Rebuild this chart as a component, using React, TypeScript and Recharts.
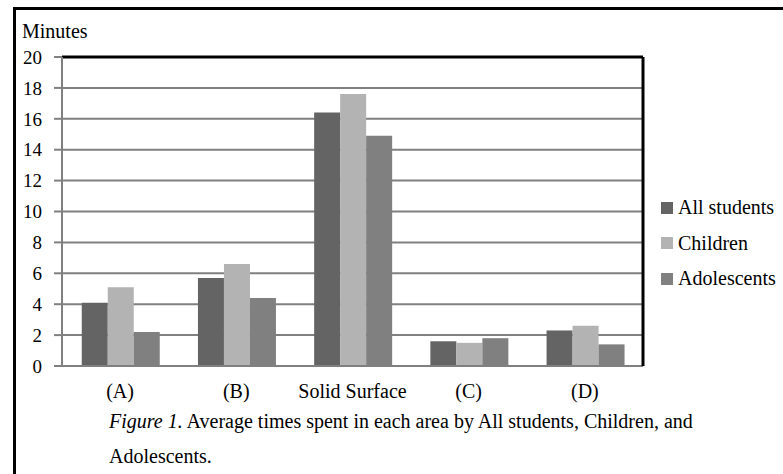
import { BarChart, Bar, XAxis, YAxis, CartesianGrid, Legend, ReferenceLine } from 'recharts';

const areas = ['(A)', '(B)', 'Solid Surface', '(C)', '(D)'];
const allStudents = [4.1, 5.7, 16.4, 1.6, 2.3];
const children = [5.1, 6.6, 17.6, 1.5, 2.6];
const adolescents = [2.2, 4.4, 14.9, 1.8, 1.4];
const yTicks = [0, 2, 4, 6, 8, 10, 12, 14, 16, 18, 20];

const series = [
  { key: 'allStudents', name: 'All students', color: '#646464' },
  { key: 'children', name: 'Children', color: '#b3b3b3' },
  { key: 'adolescents', name: 'Adolescents', color: '#808080' },
];

const data = areas.map((area, i) => ({
  area,
  allStudents: allStudents[i],
  children: children[i],
  adolescents: adolescents[i],
}));

const serif = "'Liberation Serif', 'Times New Roman', serif";

// custom ticks so the font is set through CSS, not the svg attribute
const XTick = ({ x, y, payload }: any) => (
  <text x={x} y={y} dy="0.71em" textAnchor="middle" fill="#000" style={{ fontFamily: serif, fontSize: 20 }}>
    {payload.value}
  </text>
);

const YTick = ({ x, y, payload }: any) => (
  <text x={x} y={y} dy="0.355em" textAnchor="end" fill="#000" style={{ fontFamily: serif, fontSize: 19 }}>
    {payload.value}
  </text>
);

const renderLegend = () => (
  <div style={{ fontFamily: serif, fontSize: 20, color: '#000' }}>
    {series.map((s) => (
      <div key={s.key} style={{ display: 'flex', alignItems: 'center', height: 35.5 }}>
        <span style={{ display: 'inline-block', width: 12, height: 12, background: s.color, marginRight: 5 }} />
        <span>{s.name}</span>
      </div>
    ))}
  </div>
);

const App = () => {
  return (
    <div style={{ position: 'absolute', left: 0, top: 0, width: 783, height: 474, overflow: 'hidden', background: '#fff' }}>
      <div
        style={{
          position: 'absolute',
          left: 13,
          top: 7,
          width: 900,
          height: 600,
          borderLeft: '3px solid #000',
          borderTop: '3px solid #000',
        }}
      />
      <div style={{ position: 'absolute', left: 22, top: 20, fontFamily: serif, fontSize: 20, lineHeight: '22px' }}>
        Minutes
      </div>
      <div style={{ position: 'absolute', left: 0, top: 0 }}>
        <BarChart
          width={783}
          height={474}
          data={data}
          margin={{ top: 57, right: 139, bottom: 78, left: 0 }}
          barCategoryGap="17%"
          barGap={0}
        >
          <CartesianGrid vertical={false} stroke="#808080" strokeWidth={2} />
          <XAxis
            dataKey="area"
            height={30}
            tickLine={false}
            tickMargin={12}
            axisLine={{ stroke: '#808080', strokeWidth: 2 }}
            tick={<XTick />}
            interval={0}
          />
          <YAxis
            domain={[0, 20]}
            ticks={yTicks}
            width={62}
            tickSize={8}
            tickMargin={12}
            axisLine={{ stroke: '#808080', strokeWidth: 2 }}
            tickLine={{ stroke: '#808080', strokeWidth: 2 }}
            tick={<YTick />}
            interval={0}
          />
          <YAxis
            yAxisId="right"
            orientation="right"
            domain={[0, 20]}
            width={1}
            tick={false}
            tickLine={false}
            axisLine={{ stroke: '#000', strokeWidth: 3 }}
          />
          <ReferenceLine y={20} stroke="#000" strokeWidth={3} />
          {series.map((s) => (
            <Bar key={s.key} dataKey={s.key} name={s.name} fill={s.color} isAnimationActive={false} />
          ))}
          <Legend
            layout="vertical"
            align="center"
            verticalAlign="middle"
            content={renderLegend}
            wrapperStyle={{ left: 661, top: 190, width: 122 }}
          />
        </BarChart>
      </div>
      <div style={{ position: 'absolute', left: 109, top: 404, fontFamily: serif, fontSize: 20, lineHeight: '35px', whiteSpace: 'nowrap' }}>
        <div>
          <i>Figure 1.</i> Average times spent in each area by All students, Children, and
        </div>
        <div>Adolescents.</div>
      </div>
    </div>
  );
};

export default App;
